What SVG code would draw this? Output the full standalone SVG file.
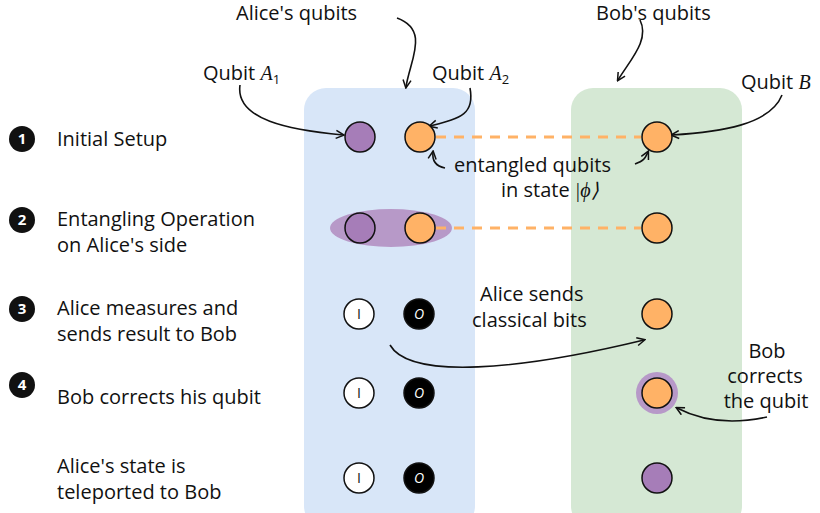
<svg xmlns="http://www.w3.org/2000/svg" width="820" height="513" viewBox="0 0 820 513">
<style>
text{font-family:"Open Sans","Liberation Sans",sans-serif;font-size:20px;fill:#111}
.q{stroke:#111;stroke-width:1.5}
.o{fill:#ffb266}.p{fill:#a67db8}
.c{fill:none;stroke:#111;stroke-width:1.6}
.n{fill:#111}.nt{fill:#fff;font-size:15px;font-weight:bold;text-anchor:middle}
.m{font-family:"Liberation Serif",serif;font-style:italic}
</style>
<defs><marker id="a" markerWidth="10" markerHeight="10" refX="8" refY="5" orient="auto" markerUnits="userSpaceOnUse"><path d="M1,1 L9,5 L1,9" fill="none" stroke="#111" stroke-width="1.5"/></marker></defs>
<rect x="304" y="88" width="171" height="440" rx="22" fill="#d8e6f8"/>
<rect x="571" y="88" width="171" height="440" rx="22" fill="#d5e8d4"/>
<g id="steps">
<circle class="n" cx="22" cy="139" r="13"/><text class="nt" x="22" y="144">1</text>
<circle class="n" cx="22" cy="220" r="13"/><text class="nt" x="22" y="225">2</text>
<circle class="n" cx="22" cy="309" r="13"/><text class="nt" x="22" y="314">3</text>
<circle class="n" cx="22" cy="385" r="13"/><text class="nt" x="22" y="390">4</text>
<text x="57" y="146">Initial Setup</text>
<text x="57" y="226">Entangling Operation</text><text x="57" y="252">on Alice's side</text>
<text x="57" y="315">Alice measures and</text><text x="57" y="341">sends result to Bob</text>
<text x="57" y="404">Bob corrects his qubit</text>
<text x="57" y="473">Alice's state is</text><text x="57" y="499">teleported to Bob</text>
</g>
<ellipse cx="391" cy="228" rx="61" ry="19" fill="#b799c8"/>
<g id="connectors">
<line x1="436" y1="137" x2="641" y2="137" stroke="#ffb266" stroke-width="3" stroke-dasharray="10,8"/>
<line x1="436" y1="228" x2="641" y2="228" stroke="#ffb266" stroke-width="3" stroke-dasharray="10,8"/>
<path class="c" d="M397,18 C430,30 410,60 406,87" marker-end="url(#a)"/>
<path class="c" d="M640,20 C650,40 630,60 618,80" marker-end="url(#a)"/>
<path class="c" d="M240,85 C235,120 290,130 343,135" marker-end="url(#a)"/>
<path class="c" d="M470,88 C475,115 460,118 430,126" marker-end="url(#a)"/>
<path class="c" d="M782,95 C770,125 720,132 672,135" marker-end="url(#a)"/>
<path class="c" d="M445,168 C435,166 432,160 433,152" marker-end="url(#a)"/>
<path class="c" d="M635,164 C645,160 645,158 648,152" marker-end="url(#a)"/>
<path class="c" d="M390,345 C410,380 520,370 644,340" marker-end="url(#a)"/>
<path class="c" d="M767,417 C730,425 700,420 677,408" marker-end="url(#a)"/>
</g>
<g id="alice">
<circle class="q p" cx="360" cy="137" r="15"/><circle class="q o" cx="420" cy="137" r="15"/>
<circle class="q p" cx="360" cy="228" r="15"/><circle class="q o" cx="420" cy="228" r="15"/>
<circle class="q" fill="#fff" cx="359" cy="314" r="15"/><circle class="q" fill="#000" cx="419" cy="314" r="15"/>
<circle class="q" fill="#fff" cx="359" cy="393" r="15"/><circle class="q" fill="#000" cx="419" cy="393" r="15"/>
<circle class="q" fill="#fff" cx="359" cy="478" r="15"/><circle class="q" fill="#000" cx="419" cy="478" r="15"/>
<g style="text-anchor:middle"><text x="359" y="319" style="font-size:14px">I</text><text x="359" y="398" style="font-size:14px">I</text><text x="359" y="483" style="font-size:14px">I</text>
<text x="419" y="319" style="fill:#fff;font-style:italic;font-size:14px">O</text><text x="419" y="398" style="fill:#fff;font-style:italic;font-size:14px">O</text><text x="419" y="483" style="fill:#fff;font-style:italic;font-size:14px">O</text></g>
</g>
<g id="bob">
<circle class="q o" cx="657" cy="137" r="15"/><circle class="q o" cx="657" cy="228" r="15"/>
<circle class="q o" cx="657" cy="314" r="15"/>
<circle cx="657" cy="393" r="21" fill="#b799c8"/><circle class="q o" cx="657" cy="393" r="15"/>
<circle class="q p" cx="657" cy="478" r="15"/>
</g>
<g id="labels">
<text x="236" y="20">Alice's qubits</text>
<text x="596" y="20">Bob's qubits</text>
<text x="203" y="80">Qubit <tspan class="m">A</tspan><tspan font-size="13" dy="4">1</tspan></text>
<text x="432" y="80">Qubit <tspan class="m">A</tspan><tspan font-size="13" dy="4">2</tspan></text>
<text x="741" y="89">Qubit <tspan class="m">B</tspan></text>
<text x="454" y="172">entangled qubits</text>
<text x="501" y="197">in state <tspan class="m">|ϕ⟩</tspan></text>
<text x="480" y="301">Alice sends</text><text x="472" y="327">classical bits</text>
<text x="767" y="358" text-anchor="middle">Bob</text><text x="765" y="383" text-anchor="middle">corrects</text><text x="766" y="408" text-anchor="middle">the qubit</text>
</g>
</svg>
